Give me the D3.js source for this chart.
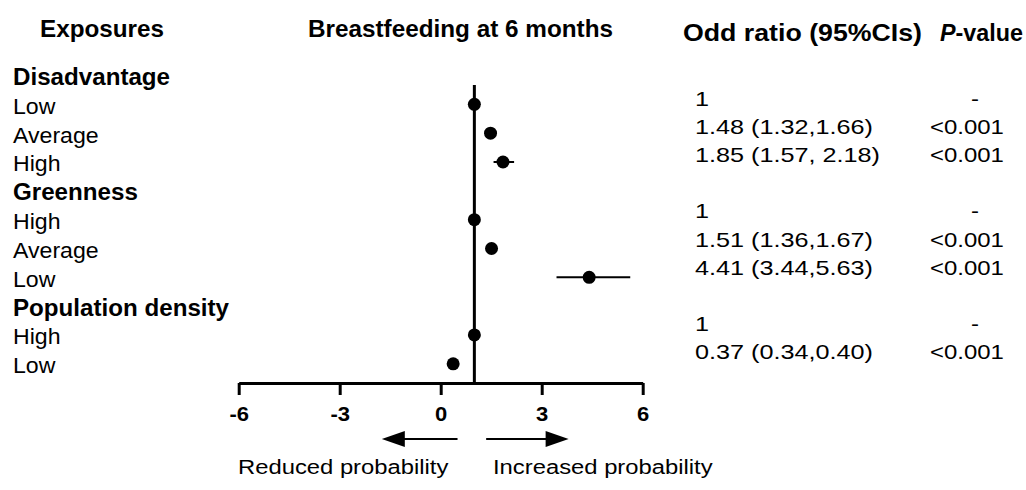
<!DOCTYPE html>
<html>
<head>
<meta charset="utf-8">
<script src="https://cdn.jsdelivr.net/npm/d3@7"></script>
<style>
  body { margin: 0; background: #fff; }
  text { font-family: "Liberation Sans", Arial, Helvetica, sans-serif; fill: #000; }
</style>
</head>
<body>
<div id="chart"></div>
<script>
// rows of the forest plot (group headers have no estimate)
var rowLabels = ["Disadvantage", "Low", "Average", "High", "Greenness", "High", "Average", "Low", "Population density", "High", "Low"];
var isGroup = [true, false, false, false, true, false, false, false, true, false, false];
var oddsRatio = [null, 1, 1.48, 1.85, null, 1, 1.51, 4.41, null, 1, 0.37];
var ciLow = [null, 1, 1.32, 1.57, null, 1, 1.36, 3.44, null, 1, 0.34];
var ciHigh = [null, 1, 1.66, 2.18, null, 1, 1.67, 5.63, null, 1, 0.40];
var orText = [null, "1", "1.48 (1.32,1.66)", "1.85 (1.57, 2.18)", null, "1", "1.51 (1.36,1.67)", "4.41 (3.44,5.63)", null, "1", "0.37 (0.34,0.40)"];
var pText = [null, "-", "<0.001", "<0.001", null, "-", "<0.001", "<0.001", null, "-", "<0.001"];
var xTicks = [-6, -3, 0, 3, 6];

var svgWidth = 1026, svgHeight = 490;
var svg = d3.select("#chart").append("svg")
    .attr("width", svgWidth)
    .attr("height", svgHeight);

// stretch text horizontally (reference type is a little wide)
function stretch(sel, k) {
    sel.each(function() {
        var w = this.getComputedTextLength();
        d3.select(this).attr("textLength", w * k).attr("lengthAdjust", "spacingAndGlyphs");
    });
}

var rows = rowLabels.map(function(d, i) {
    return {i: i, label: d, group: isGroup[i], or: oddsRatio[i], lo: ciLow[i], hi: ciHigh[i], orT: orText[i], pT: pText[i]};
});

// scales
var x = d3.scaleLinear().domain([-6, 6]).range([238.7, 642.7]);
var y = d3.scaleLinear().domain([0, 10]).range([75.5, 363.8]);
var yTable = d3.scaleLinear().domain([1, 10]).range([98, 351.8]);
var axisY = 383;

// column headers
var headers = [
    {t: "Exposures", x: 40, y: 37, w: 124},
    {t: "Breastfeeding at 6 months", x: 308, y: 37, w: 305},
    {t: "Odd ratio (95%CIs)", x: 683, y: 41, w: 239}
];
svg.selectAll(".hdr").data(headers).enter().append("text")
    .attr("class", "hdr")
    .attr("x", d => d.x).attr("y", d => d.y)
    .attr("font-size", 24).attr("font-weight", "bold")
    .attr("textLength", d => d.w).attr("lengthAdjust", "spacingAndGlyphs")
    .text(d => d.t);
var pHead = svg.append("text")
    .attr("x", 940).attr("y", 41)
    .attr("font-size", 24).attr("font-weight", "bold")
    .attr("textLength", 83).attr("lengthAdjust", "spacingAndGlyphs");
pHead.append("tspan").attr("font-style", "italic").text("P");
pHead.append("tspan").text("-value");

// row labels
var labels = svg.selectAll(".lab").data(rows).enter().append("text")
    .attr("class", "lab")
    .attr("x", 13)
    .attr("y", d => y(d.i) + 9.5)
    .attr("font-size", d => d.group ? 23 : 22)
    .attr("font-weight", d => d.group ? "bold" : "normal")
    .text(d => d.label);
stretch(labels, 1.05);

// x axis
var axis = svg.append("g")
    .attr("transform", `translate(0, ${axisY})`)
    .call(d3.axisBottom(x).tickValues(xTicks).tickSize(12).tickSizeOuter(0).tickPadding(12)
        .tickFormat(d => String(d)));
axis.select(".domain").attr("stroke", "#000").attr("stroke-width", 3);
axis.selectAll(".tick line").attr("stroke", "#000").attr("stroke-width", 3);
axis.selectAll(".tick text")
    .attr("font-family", "Liberation Sans, Arial, sans-serif")
    .attr("font-size", 20).attr("font-weight", "bold").attr("fill", "#000");
stretch(axis.selectAll(".tick text"), 1.1);

// reference line at OR = 1
svg.append("line")
    .attr("x1", x(1)).attr("x2", x(1))
    .attr("y1", 85).attr("y2", axisY)
    .attr("stroke", "#000").attr("stroke-width", 3);

var est = rows.filter(d => !d.group);

// confidence intervals
svg.selectAll(".ci").data(est).enter().append("line")
    .attr("class", "ci")
    .attr("x1", d => x(d.lo)).attr("x2", d => x(d.hi))
    .attr("y1", d => y(d.i)).attr("y2", d => y(d.i))
    .attr("stroke", "#000").attr("stroke-width", 2);

// point estimates
svg.selectAll(".pt").data(est).enter().append("circle")
    .attr("class", "pt")
    .attr("cx", d => x(d.or)).attr("cy", d => y(d.i))
    .attr("r", 6.5)
    .attr("fill", "#000");

// table: odds ratios and p-values
var orCells = svg.selectAll(".orT").data(est).enter().append("text")
    .attr("class", "orT")
    .attr("x", 695)
    .attr("y", d => yTable(d.i) + 7.5)
    .attr("font-size", 21)
    .text(d => d.orT);
stretch(orCells, 1.2);

var pCells = svg.selectAll(".pT").data(est).enter().append("text")
    .attr("class", "pT")
    .attr("x", d => d.pT === "-" ? 975 : 930)
    .attr("text-anchor", d => d.pT === "-" ? "middle" : "start")
    .attr("y", d => yTable(d.i) + 7.5)
    .attr("font-size", 21)
    .text(d => d.pT);
stretch(pCells, 1.14);

// direction arrows
var arrowY = 439;
var arrows = [
    {from: x(0.5), to: x(-1.75), dir: -1},
    {from: x(1.35), to: x(3.8), dir: 1}
];
svg.selectAll(".arrL").data(arrows).enter().append("line")
    .attr("class", "arrL")
    .attr("x1", d => d.from).attr("x2", d => d.to - d.dir * 20)
    .attr("y1", arrowY).attr("y2", arrowY)
    .attr("stroke", "#000").attr("stroke-width", 2);
svg.selectAll(".arrH").data(arrows).enter().append("path")
    .attr("class", "arrH")
    .attr("d", d => `M${d.to},${arrowY} L${d.to - d.dir * 23},${arrowY - 8} L${d.to - d.dir * 23},${arrowY + 8} Z`)
    .attr("fill", "#000");

var notes = svg.selectAll(".note").data([
    {t: "Reduced probability", x: 238},
    {t: "Increased probability", x: 493}
]).enter().append("text")
    .attr("class", "note")
    .attr("x", d => d.x).attr("y", 474)
    .attr("font-size", 20)
    .text(d => d.t);
stretch(notes, 1.19);
</script>
</body>
</html>
